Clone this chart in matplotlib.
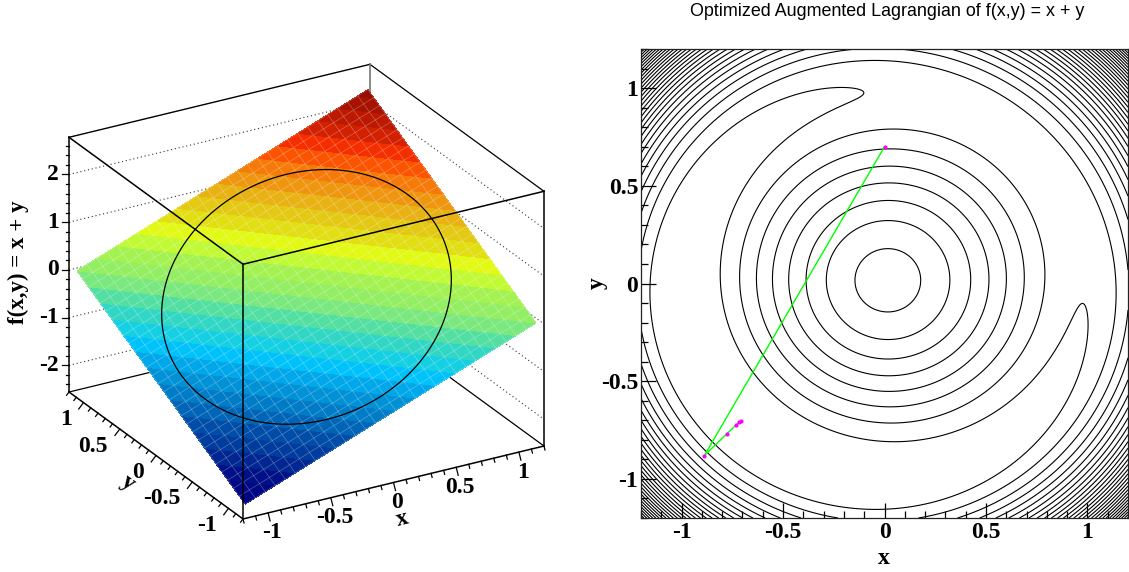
#!/usr/bin/python3

import numpy as np
import matplotlib
matplotlib.use('Agg')
import matplotlib.pyplot as plt
from matplotlib.colors import LinearSegmentedColormap

plt.rcParams['font.family'] = ['Liberation Serif', 'DejaVu Serif']
plt.rcParams['font.weight'] = 'bold'

# axis values
x_ticks = [-1, -0.5, 0, 0.5, 1]
y_ticks = [-1, -0.5, 0, 0.5, 1]
z_ticks = [-2, -1, 0, 1, 2]
tick_text = ['-1', '-0.5', '0', '0.5', '1']
z_text = ['-2', '-1', '0', '1', '2']
lim = 1.2
z_lo, z_hi = -2.56, 2.78

# surface bin centres of the 30 x 30 function, colour bands
surf_lim = 1.16
surf_bins = 30
band_levels = [-2.4 + 0.16 * i for i in range(31)]
palette_z = [-2.4, -2.02, -1.77, -1.51, -1.29, -1.08, -0.86, -0.69, -0.5, -0.32, -0.18,
             -0.04, 0.34, 0.52, 0.7, 0.96, 1.13, 1.35, 1.5, 1.64, 1.82, 2.1, 2.4]
palette_rgb = [(0, 0, 125), (0, 15, 135), (0, 50, 150), (0, 80, 170), (0, 110, 190),
               (0, 140, 210), (0, 170, 235), (0, 200, 255), (30, 210, 215), (65, 220, 180),
               (95, 225, 150), (135, 235, 115), (175, 245, 70), (225, 255, 20), (225, 225, 20),
               (230, 190, 20), (235, 165, 20), (245, 125, 10), (250, 95, 0), (255, 50, 0),
               (215, 35, 0), (175, 20, 0), (140, 10, 0)]

# minimiser path
path_x = [0.0, -0.888, -0.776, -0.732, -0.718, -0.709]
path_y = [0.70, -0.881, -0.768, -0.725, -0.711, -0.703]

# lagrangian parameters and contour levels fitted to the rings in the picture
lam = 0.707
mu = 32.0
levels = [0.87, 2.8, 4.75, 6.7, 8.65, 10.6, 12.55, 14.5, 16.45, 18.4, 20.35,
          22.3, 24.25, 26.2, 28.15, 30.1, 32.05, 34.0, 35.95, 37.9, 39.85,
          41.8, 43.75, 45.7, 47.65, 49.6, 51.55, 53.5, 55.45, 57.4, 59.35]


def project(x, y, z):
    # TView style parallel projection, result in picture pixels
    x, y, z = np.asarray(x), np.asarray(y), np.asarray(z)
    sx = 306.5 + 125.4 * x - 72.5 * y
    sy = 296.9 - 30.4 * x - 52.9 * y - 47.7 * z
    return sx, sy


def line3d(ax, a, b, **kw):
    sx, sy = project([a[0], b[0]], [a[1], b[1]], [a[2], b[2]])
    ax.plot(sx, sy, **kw)


def make_palette():
    lo, hi = palette_z[0], palette_z[-1]
    stops = []
    for z, rgb in zip(palette_z, palette_rgb):
        stops.append(((z - lo) / (hi - lo), tuple(c / 255 for c in rgb)))
    return LinearSegmentedColormap.from_list('root_jet', stops)


def draw_lego(ax):
    # back walls
    for z in z_ticks:
        sx, sy = project([-lim, lim, lim], [lim, lim, -lim], [z, z, z])
        ax.plot(sx, sy, color='#333333', lw=0.8, ls=(0, (1, 2.5)), zorder=1)
    line3d(ax, (-lim, lim, z_hi), (lim, lim, z_hi), color='black', lw=1, zorder=1)
    line3d(ax, (lim, lim, z_hi), (lim, -lim, z_hi), color='black', lw=0.9, zorder=1)
    line3d(ax, (-lim, lim, z_lo), (lim, lim, z_lo), color='black', lw=0.9, zorder=1)
    line3d(ax, (lim, lim, z_lo), (lim, -lim, z_lo), color='black', lw=0.9, zorder=1)
    line3d(ax, (lim, lim, z_lo), (lim, lim, z_hi), color='#777777', lw=1.2, zorder=1)

    # surface z = x + y
    gx = np.linspace(-surf_lim, surf_lim, surf_bins)
    gy = np.linspace(-surf_lim, surf_lim, surf_bins)
    X, Y = np.meshgrid(gx, gy)
    Z = X + Y
    SX, SY = project(X, Y, Z)
    ax.contourf(SX, SY, Z, levels=band_levels, cmap=make_palette(), zorder=2)
    mesh = dict(color='white', lw=0.5, alpha=0.3, zorder=3)
    for i in range(surf_bins):
        ax.plot(SX[i, :], SY[i, :], **mesh)
        ax.plot(SX[:, i], SY[:, i], **mesh)

    # constraint circle on the surface
    t = np.linspace(0, 2 * np.pi, 300)
    cx, cy = np.cos(t), np.sin(t)
    sx, sy = project(cx, cy, cx + cy)
    ax.plot(sx, sy, color='black', lw=0.9, zorder=4)

    # front of the box
    line3d(ax, (-lim, lim, z_hi), (-lim, -lim, z_hi), color='black', lw=1.1, zorder=5)
    line3d(ax, (-lim, -lim, z_hi), (lim, -lim, z_hi), color='black', lw=1.1, zorder=5)
    line3d(ax, (-lim, -lim, z_hi), (-lim, -lim, z_lo), color='black', lw=1.1, zorder=5)
    line3d(ax, (lim, -lim, z_hi), (lim, -lim, z_lo), color='black', lw=1.1, zorder=5)
    line3d(ax, (-lim, lim, z_hi), (-lim, lim, z_lo), color='black', lw=1.1, zorder=5)
    line3d(ax, (-lim, lim, z_lo), (-lim, -lim, z_lo), color='black', lw=1.1, zorder=5)
    line3d(ax, (-lim, -lim, z_lo), (lim, -lim, z_lo), color='black', lw=1.1, zorder=5)

    # x axis ticks
    tk = dict(color='black', lw=0.9, zorder=5)
    for i in range(-12, 13):
        v = i / 10
        sx, sy = project(v, -lim, z_lo)
        n = 8 if i % 5 == 0 else 4
        ax.plot([sx, sx + 0.25 * n], [sy, sy + n], **tk)
    for v, s in zip(x_ticks, tick_text):
        sx, sy = project(v, -lim, z_lo)
        ax.text(sx + 4, sy + 20, s, fontsize=17, ha='center', va='center')

    # y axis ticks
    for i in range(-12, 13):
        v = i / 10
        sx, sy = project(-lim, v, z_lo)
        n = 8 if i % 5 == 0 else 4
        ax.plot([sx, sx - 0.6 * n], [sy, sy + 0.8 * n], **tk)
    for v, s in zip(y_ticks, tick_text):
        sx, sy = project(-lim, v, z_lo)
        ax.text(sx - 12, sy + 17, s, fontsize=17, ha='right', va='center')

    # z axis ticks
    for i in range(-12, 14):
        v = i / 5
        sx, sy = project(-lim, lim, v)
        n = 7 if i % 5 == 0 else 3.5
        ax.plot([sx - n, sx], [sy, sy], **tk)
    for v, s in zip(z_ticks, z_text):
        sx, sy = project(-lim, lim, v)
        ax.text(sx - 10, sy, s, fontsize=17, ha='right', va='center')

    ax.text(18, 262, 'f(x,y) = x + y', fontsize=16.5, rotation=90, ha='center', va='center')
    ax.text(402, 519, 'x', fontsize=17, rotation=14, ha='center', va='center')
    ax.text(128, 483, 'y', fontsize=17, rotation=-36, ha='center', va='center')


def draw_contour(ax):
    gx = np.linspace(-lim, lim, 601)
    gy = np.linspace(-lim, lim, 601)
    X, Y = np.meshgrid(gx, gy)
    c = X**2 + Y**2 - 1
    L = X + Y + lam * c + mu / 2 * c**2
    ax.contour(X, Y, L, levels=levels, colors='black', linewidths=0.8)
    ax.plot(path_x, path_y, color='#00ff00', lw=1, zorder=3)
    ax.plot(path_x, path_y, ls='none', marker='o', ms=3, color='#ff00ff', mew=0, zorder=4)

    ax.set_xlim(-lim, lim)
    ax.set_ylim(-lim, lim)
    ax.set_xticks(x_ticks)
    ax.set_xticklabels(tick_text)
    ax.set_yticks(y_ticks)
    ax.set_yticklabels(tick_text)
    minor = [i / 10 for i in range(-12, 13) if i % 5 != 0]
    ax.set_xticks(minor, minor=True)
    ax.set_yticks(minor, minor=True)
    ax.tick_params(which='major', direction='in', length=10.5, width=0.9, labelsize=17)
    ax.tick_params(which='minor', direction='in', length=5, width=0.9)
    ax.tick_params(axis='x', which='major', pad=3)
    ax.tick_params(axis='y', which='major', pad=2)
    for sp in ax.spines.values():
        sp.set_linewidth(0.9)
        sp.set_color('#222222')


def run():
    fig = plt.figure(figsize=(11.29, 5.72), dpi=100)
    ax0 = fig.add_axes([0, 0, 1, 1])
    ax0.set_xlim(0, 1129)
    ax0.set_ylim(572, 0)
    ax0.axis('off')
    draw_lego(ax0)

    ax1 = fig.add_axes([641 / 1129, 1 - 518 / 572, 487 / 1129, 469 / 572])
    draw_contour(ax1)

    ax0.text(597, 283, 'y', fontsize=17, rotation=90, ha='center', va='center')
    ax0.text(884, 558, 'x', fontsize=17, ha='center', va='center')
    ax0.text(887, 11, 'Optimized Augmented Lagrangian of f(x,y) = x + y', fontsize=12.9,
             family=['Liberation Sans', 'DejaVu Sans'], weight='normal', ha='center', va='center')
    fig.savefig('out.png', dpi=100)


if __name__ == "__main__":
    run()
